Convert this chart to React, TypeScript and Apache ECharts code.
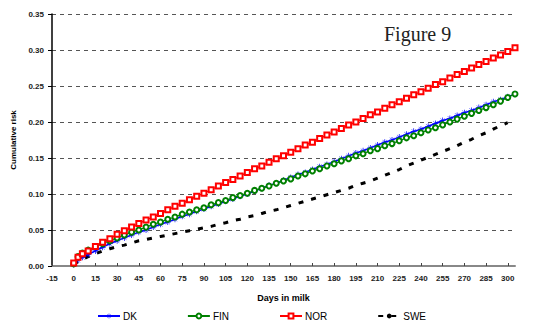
import React, { useEffect, useRef } from "react";
import * as echarts from "echarts";

const days = [0, 3, 6, 10, 15, 20, 25, 30, 35, 40, 45, 50, 55, 60, 65, 70, 75, 80, 85, 90, 95, 100, 105, 110, 115, 120, 125, 130, 135, 140, 145, 150, 155, 160, 165, 170, 175, 180, 185, 190, 195, 200, 205, 210, 215, 220, 225, 230, 235, 240, 245, 250, 255, 260, 265, 270, 275, 280, 285, 290, 295, 300, 305];

const dk = [0.002, 0.008, 0.012, 0.016, 0.021, 0.026, 0.031, 0.035, 0.039, 0.043, 0.047, 0.050, 0.054, 0.058, 0.061, 0.065, 0.069, 0.072, 0.076, 0.079, 0.083, 0.086, 0.090, 0.093, 0.097, 0.100, 0.104, 0.108, 0.112, 0.115, 0.119, 0.123, 0.127, 0.130, 0.134, 0.138, 0.141, 0.145, 0.149, 0.153, 0.157, 0.160, 0.164, 0.168, 0.172, 0.175, 0.179, 0.183, 0.187, 0.190, 0.194, 0.198, 0.202, 0.205, 0.209, 0.213, 0.216, 0.220, 0.224, 0.228, 0.231, 0.235, 0.239];

const fin = [0.003, 0.013, 0.018, 0.022, 0.027, 0.031, 0.035, 0.039, 0.043, 0.047, 0.050, 0.054, 0.058, 0.061, 0.065, 0.068, 0.072, 0.075, 0.078, 0.081, 0.085, 0.088, 0.091, 0.095, 0.098, 0.101, 0.105, 0.108, 0.111, 0.115, 0.118, 0.121, 0.125, 0.128, 0.132, 0.135, 0.139, 0.142, 0.146, 0.149, 0.153, 0.156, 0.160, 0.163, 0.167, 0.170, 0.174, 0.178, 0.181, 0.185, 0.189, 0.192, 0.196, 0.200, 0.204, 0.208, 0.212, 0.216, 0.220, 0.224, 0.229, 0.234, 0.239];

const nor = [0.004, 0.012, 0.017, 0.021, 0.027, 0.033, 0.038, 0.044, 0.049, 0.054, 0.059, 0.064, 0.068, 0.073, 0.078, 0.083, 0.087, 0.092, 0.097, 0.101, 0.106, 0.111, 0.116, 0.120, 0.125, 0.130, 0.135, 0.139, 0.144, 0.149, 0.153, 0.158, 0.163, 0.168, 0.172, 0.177, 0.182, 0.186, 0.191, 0.196, 0.200, 0.205, 0.210, 0.214, 0.219, 0.224, 0.228, 0.233, 0.238, 0.242, 0.247, 0.252, 0.256, 0.261, 0.266, 0.270, 0.275, 0.280, 0.284, 0.289, 0.293, 0.298, 0.303];

const swe = [0.002, 0.006, 0.009, 0.013, 0.017, 0.021, 0.024, 0.027, 0.029, 0.032, 0.035, 0.037, 0.039, 0.041, 0.043, 0.045, 0.047, 0.049, 0.051, 0.053, 0.055, 0.058, 0.060, 0.063, 0.065, 0.068, 0.070, 0.073, 0.076, 0.078, 0.081, 0.084, 0.087, 0.090, 0.093, 0.096, 0.099, 0.102, 0.105, 0.108, 0.112, 0.115, 0.118, 0.122, 0.126, 0.130, 0.134, 0.139, 0.143, 0.147, 0.151, 0.155, 0.159, 0.163, 0.167, 0.172, 0.176, 0.181, 0.185, 0.190, 0.195, 0.199];

const seriesNames = ["DK", "FIN", "NOR", "SWE"];

const pairs = (vals: number[]) => vals.map((v, i) => [days[i], v]);

const asterisk =
  "path://M4.4,0L5.6,0L5.6,10L4.4,10Z M0,4.4L10,4.4L10,5.6L0,5.6Z M1.4,1L9,8.6L8.6,9L1,1.4Z M8.6,1L9,1.4L1.4,9L1,8.6Z";

export default function App() {
  const ref = useRef<HTMLDivElement>(null);
  useEffect(() => {
    if (!ref.current) return;
    const chart = echarts.init(ref.current, null, { renderer: "svg" });
    const font = "'Liberation Sans', Arial, sans-serif";
    chart.setOption({
      animation: false,
      backgroundColor: "#fff",
      title: {
        text: "Figure 9",
        left: 379,
        top: 19,
        textStyle: { fontFamily: "'Liberation Serif', 'Times New Roman', serif", fontSize: 20, fontWeight: "normal", color: "#222" },
      },
      grid: { left: 52, right: 19, top: 14, bottom: 62 },
      legend: {
        top: 306,
        left: 92,
        itemWidth: 22,
        itemHeight: 6,
        itemGap: 50,
        data: seriesNames,
        textStyle: { fontFamily: font, fontSize: 10, color: "#000", padding: [0, 0, 0, -2] },
      },
      xAxis: {
        type: "value",
        min: -15,
        max: 305,
        interval: 15,
        name: "Days in milk",
        nameLocation: "middle",
        nameGap: 27,
        nameTextStyle: { fontFamily: font, fontSize: 9, fontWeight: "bold", color: "#000" },
        axisLine: { show: true, onZero: false, lineStyle: { color: "#888", width: 2 } },
        axisTick: { show: true, inside: true, length: 3, lineStyle: { color: "#444", width: 1 } },
        axisLabel: { fontFamily: font, fontSize: 8, fontWeight: "bold", color: "#222", margin: 8, showMaxLabel: false },
        splitLine: { show: false },
      },
      yAxis: {
        type: "value",
        min: 0,
        max: 0.35,
        interval: 0.05,
        name: "Cumulative risk",
        nameLocation: "middle",
        nameGap: 33,
        nameTextStyle: { fontFamily: font, fontSize: 8, fontWeight: "bold", color: "#000" },
        axisLine: { show: true, onZero: false, lineStyle: { color: "#000", width: 1.5 } },
        axisTick: { show: true, length: 4, lineStyle: { color: "#000" } },
        axisLabel: { fontFamily: font, fontSize: 8, fontWeight: "bold", color: "#222", margin: 8, formatter: (v: number) => v.toFixed(2) },
        splitLine: { show: true, lineStyle: { color: "#555", type: [4, 4], width: 1 } },
      },
      series: [
        {
          name: "DK",
          type: "line",
          data: pairs(dk),
          symbol: asterisk,
          symbolSize: 6,
          lineStyle: { color: "#0000ff", width: 1.5 },
          itemStyle: { color: "#0000ff" },
        },
        {
          name: "FIN",
          type: "line",
          data: pairs(fin),
          symbol: "emptyCircle",
          symbolSize: 5,
          lineStyle: { color: "#008000", width: 1.2 },
          itemStyle: { color: "#008000", borderColor: "#008000", borderWidth: 1 },
        },
        {
          name: "NOR",
          type: "line",
          data: pairs(nor),
          symbol: "emptyRect",
          symbolSize: 5,
          lineStyle: { color: "#ff0000", width: 1.2 },
          itemStyle: { color: "#ff0000", borderColor: "#ff0000", borderWidth: 1 },
        },
        {
          name: "SWE",
          type: "line",
          data: pairs(swe),
          symbol: "none",
          lineStyle: { color: "#000", width: 3, type: [5, 8] },
          itemStyle: { color: "#000" },
        },
      ],
    });
    return () => chart.dispose();
  }, []);
  return <div ref={ref} style={{ position: "fixed", left: 0, top: 0, width: 534, height: 328 }} />;
}
